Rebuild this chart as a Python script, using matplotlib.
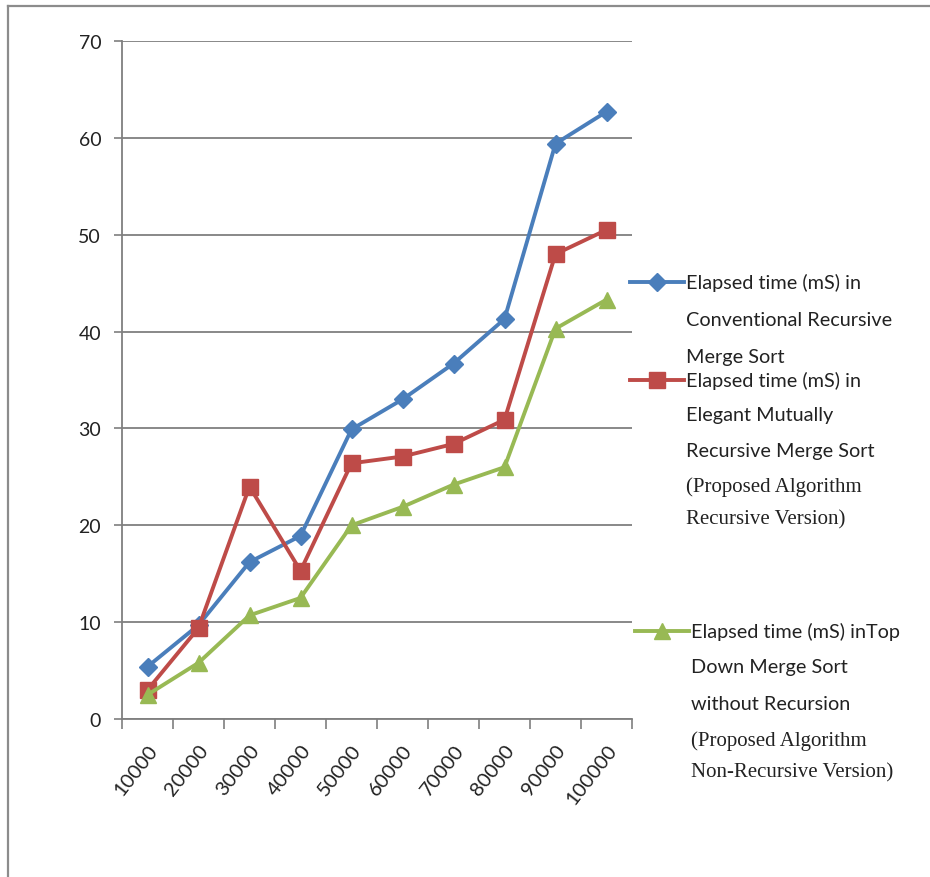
import matplotlib
matplotlib.use("Agg")
import matplotlib.pyplot as plt
from matplotlib.lines import Line2D
import numpy as np

# Input sizes (number of elements sorted)
sizes = ["10000", "20000", "30000", "40000", "50000",
         "60000", "70000", "80000", "90000", "100000"]

# Elapsed time in milliseconds
conventional = [5.4, 9.7, 16.2, 18.9, 29.9, 33.0, 36.7, 41.3, 59.4, 62.7]
elegant = [3.0, 9.4, 24.0, 15.3, 26.4, 27.1, 28.4, 30.9, 48.0, 50.5]
top_down = [2.5, 5.8, 10.7, 12.5, 20.0, 21.9, 24.2, 26.0, 40.3, 43.3]

series_labels = [
    ["Elapsed time (mS) in", "Conventional Recursive", "Merge Sort"],
    ["Elapsed time (mS) in", "Elegant Mutually", "Recursive Merge Sort"],
    ["Elapsed time (mS) inTop", "Down Merge Sort", "without Recursion"],
]
series_notes = [
    [],
    ["(Proposed Algorithm", "Recursive Version)"],
    ["(Proposed Algorithm", "Non-Recursive Version)"],
]

colors = ["#4A7EBB", "#BE4B48", "#98B954"]
markers = ["D", "s", "^"]
msizes = [9.5, 11, 11]

W, H = 930, 878
fig = plt.figure(figsize=(W / 100, H / 100), dpi=100)
fig.patch.set_facecolor("white")

sans = ["Lato", "DejaVu Sans"]
serif = ["Liberation Serif", "DejaVu Serif"]

def fx(px):
    return px / W

def fy(py):
    return 1 - py / H

# outer frame
fig.add_artist(Line2D([fx(8), fx(8)], [fy(7), -0.1], color="#8c8c8c", lw=1.6,
                      transform=fig.transFigure))
fig.add_artist(Line2D([fx(8), 1.1], [fy(7), fy(7)], color="#8c8c8c", lw=1.6,
                      transform=fig.transFigure))

ax = fig.add_axes([fx(122), fy(720), fx(632) - fx(122), fy(42) - fy(720)])
x = np.arange(len(sizes))

for vals, c, m, ms in zip([conventional, elegant, top_down], colors, markers, msizes):
    ax.plot(x, vals, color=c, lw=2.8, marker=m, markersize=ms,
            markerfacecolor=c, markeredgecolor=c, zorder=3)

ax.set_xlim(-0.5, len(sizes) - 0.5)
ax.set_ylim(0, 70)
ax.set_yticks(np.arange(0, 71, 10))
ax.yaxis.grid(True, color="#7f7f7f", lw=1.3)
ax.set_axisbelow(True)

# category boundaries carry the tick marks, centers carry the labels
ax.set_xticks(np.arange(-0.5, len(sizes), 1.0))
ax.set_xticklabels([])
ax.set_xticks(x, minor=True)
ax.set_xticklabels(sizes, minor=True, rotation=52, ha="right", va="top",
                   rotation_mode="anchor", fontsize=14.5, family=sans, color="#222222")
ax.tick_params(axis="x", which="major", length=7, width=1.2, color="#7f7f7f", direction="out")
ax.tick_params(axis="x", which="minor", length=0, pad=16)
ax.tick_params(axis="y", length=6, width=1.2, color="#7f7f7f", pad=9,
               labelsize=14, labelcolor="#222222")
for lab in ax.get_yticklabels():
    lab.set_family(sans)

for side in ["top", "right"]:
    ax.spines[side].set_visible(False)
for side in ["left", "bottom"]:
    ax.spines[side].set_color("#7f7f7f")
    ax.spines[side].set_linewidth(1.3)

# legend drawn by hand: handle, sans-serif caption lines, then serif notes
entry_rows = [
    [283, 320, 358],
    [381, 416, 452, 487, 520],
    [632, 668, 705, 741, 773],
]
handle_x = [(630, 684), (630, 684), (635, 689)]
for i in range(3):
    rows = entry_rows[i]
    x0, x1 = handle_x[i]
    fig.add_artist(Line2D([fx(x0), fx(x1)], [fy(rows[0]), fy(rows[0])],
                          color=colors[i], lw=2.8, transform=fig.transFigure))
    fig.add_artist(Line2D([fx((x0 + x1) / 2)], [fy(rows[0])], color=colors[i],
                          marker=markers[i], markersize=msizes[i],
                          transform=fig.transFigure))
    lines = series_labels[i] + series_notes[i]
    for j, txt in enumerate(lines):
        is_note = j >= len(series_labels[i])
        fig.text(fx(x1 + 2), fy(rows[j]), txt,
                 family=serif if is_note else sans,
                 fontsize=15 if is_note else 14.3,
                 color="#222222", ha="left", va="center")

fig.savefig("out.png", dpi=100, facecolor="white")
